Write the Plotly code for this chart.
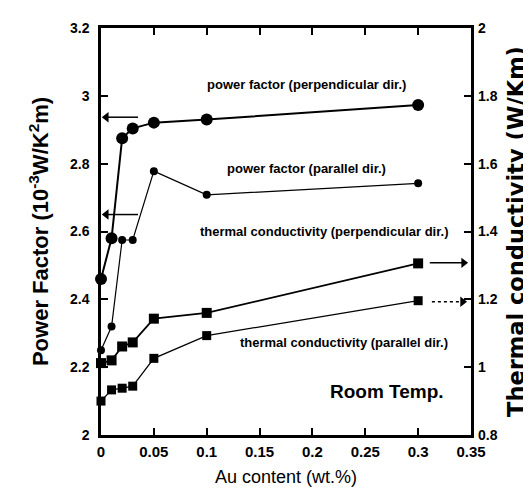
import plotly.graph_objects as go

# ---- data ----
au_content = [0, 0.01, 0.02, 0.03, 0.05, 0.1, 0.3]
pf_perp = [2.46, 2.58, 2.875, 2.904, 2.921, 2.930, 2.973]
pf_par = [2.25, 2.32, 2.575, 2.575, 2.778, 2.708, 2.742]
tc_perp = [1.012, 1.02, 1.061, 1.073, 1.143, 1.160, 1.306]
tc_par = [0.900, 0.933, 0.938, 0.944, 1.026, 1.093, 1.196]

x_ticks = [0, 0.05, 0.1, 0.15, 0.2, 0.25, 0.3, 0.35]
y_left_ticks = [2, 2.2, 2.4, 2.6, 2.8, 3, 3.2]
y_right_ticks = [0.8, 1, 1.2, 1.4, 1.6, 1.8, 2]

labels = ["power factor (perpendicular dir.)", "power factor (parallel dir.)",
          "thermal conductivity (perpendicular dir.)", "thermal conductivity (parallel dir.)"]
label_x = [0.194, 0.194, 0.211, 0.230]
label_y = [3.032, 2.785, 2.60, 2.272]

# arrows: (tail x, tip x, y, axis, dashed)
arrows = [
    (0.035, 0.0050, 2.937, "y", False),
    (0.035, 0.0050, 2.650, "y", False),
    (0.311, 0.3430, 1.3075, "y2", False),
    (0.313, 0.3420, 1.193, "y2", True),
]

FONT = "Liberation Sans"

fig = go.Figure()
fig.add_trace(go.Scatter(x=au_content, y=pf_perp, mode="lines+markers",
                         line=dict(color="black", width=2),
                         marker=dict(symbol="circle", size=12, color="black"),
                         cliponaxis=False, showlegend=False))
fig.add_trace(go.Scatter(x=au_content, y=pf_par, mode="lines+markers",
                         line=dict(color="black", width=1.2),
                         marker=dict(symbol="circle", size=8, color="black"),
                         cliponaxis=False, showlegend=False))
fig.add_trace(go.Scatter(x=au_content, y=tc_perp, mode="lines+markers", yaxis="y2",
                         line=dict(color="black", width=1.7),
                         marker=dict(symbol="square", size=10, color="black"),
                         cliponaxis=False, showlegend=False))
fig.add_trace(go.Scatter(x=au_content, y=tc_par, mode="lines+markers", yaxis="y2",
                         line=dict(color="black", width=1.2),
                         marker=dict(symbol="square", size=9, color="black"),
                         cliponaxis=False, showlegend=False))

for tail, tip, ay, axis, dashed in arrows:
    sym = "triangle-left" if tip < tail else "triangle-right"
    fig.add_trace(go.Scatter(x=[tail, tip], y=[ay, ay], mode="lines", yaxis=axis,
                             line=dict(color="black", width=1.5, dash="dot" if dashed else "solid"),
                             cliponaxis=False, showlegend=False, hoverinfo="skip"))
    fig.add_trace(go.Scatter(x=[tip], y=[ay], mode="markers", yaxis=axis,
                             marker=dict(symbol=sym, size=9, color="black"),
                             cliponaxis=False, showlegend=False, hoverinfo="skip"))

def bold(vals):
    return [f"<b>{v:g}</b>" for v in vals]

fig.update_layout(
    width=531, height=500,
    margin=dict(l=93, r=68, t=14, b=73),
    paper_bgcolor="white", plot_bgcolor="white",
    xaxis=dict(range=[0, 0.35], tickvals=x_ticks, ticktext=bold(x_ticks),
               ticks="inside", ticklen=7, tickwidth=2, tickcolor="black",
               showline=True, linewidth=2.5, linecolor="black", mirror="ticks",
               showgrid=False, zeroline=False,
               tickfont=dict(family=FONT, size=15, color="black"), ticklabelstandoff=1,
               title=dict(text="Au content (wt.%)", font=dict(family=FONT, size=18, color="black"),
                          standoff=12)),
    yaxis=dict(range=[2, 3.2], tickvals=y_left_ticks, ticktext=bold(y_left_ticks),
               ticks="inside", ticklen=7, tickwidth=2, tickcolor="black",
               showline=True, linewidth=2.5, linecolor="black", mirror=True,
               showgrid=False, zeroline=False,
               tickfont=dict(family=FONT, size=14, color="black"), ticklabelstandoff=6,
               title=dict(text="<b>Power Factor (10<sup>-3</sup>W/K<sup>2</sup>m)</b>",
                          font=dict(family=FONT, size=22, color="black"),
                          standoff=16)),
    yaxis2=dict(range=[0.8, 2], tickvals=y_right_ticks, ticktext=bold(y_right_ticks),
                overlaying="y", side="right",
                ticks="inside", ticklen=7, tickwidth=2, tickcolor="black",
                showline=False, showgrid=False, zeroline=False,
                tickfont=dict(family=FONT, size=14, color="black"),
                ticklabelstandoff=6,
                title=dict(text="<b>Thermal conductivity (W/Km)</b>",
                           font=dict(family="DejaVu Sans", size=22.5, color="black"),
                           standoff=11)),
)

for t, lx, ly in zip(labels, label_x, label_y):
    fig.add_annotation(x=lx, y=ly, xref="x", yref="y", text=f"<b>{t}</b>", showarrow=False,
                       font=dict(family=FONT, size=13, color="black"))

fig.add_annotation(x=0.271, y=2.128, xref="x", yref="y", text="<b>Room Temp.</b>", showarrow=False,
                   font=dict(family=FONT, size=19, color="black"))

fig.write_html("out.html")
